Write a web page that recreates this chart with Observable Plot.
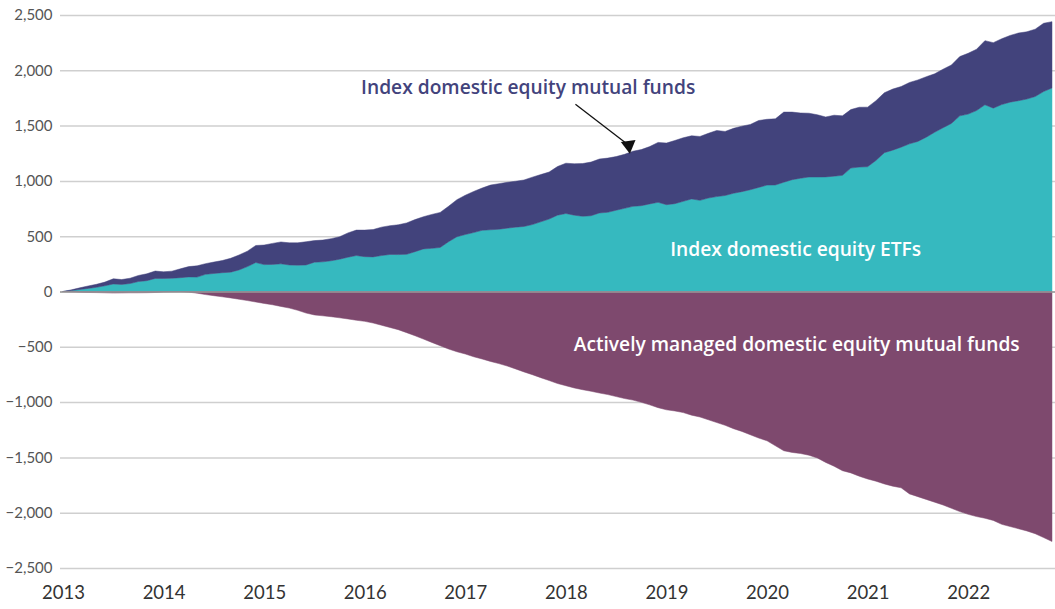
<!DOCTYPE html>
<html>
<head>
<meta charset="utf-8">
<script src="https://cdn.jsdelivr.net/npm/d3@7"></script>
<script src="https://cdn.jsdelivr.net/npm/@observablehq/plot@0.6"></script>
<style>
  html, body { margin: 0; padding: 0; background: #fff; }
  #chart svg { display: block; }
</style>
</head>
<body>
<div id="chart"></div>
<script>
// Monthly cumulative flows (USD billions), January 2013 onward
const startYear = 2013;
const yearTicks = [2013, 2014, 2015, 2016, 2017, 2018, 2019, 2020, 2021, 2022];
const valueTicks = [-2500, -2000, -1500, -1000, -500, 0, 500, 1000, 1500, 2000, 2500];
const seriesNames = [
  "Index domestic equity ETFs",
  "Index domestic equity mutual funds",
  "Actively managed domestic equity mutual funds"
];
const seriesColors = ["#36b9bf", "#42437c", "#7e496e"];

const etf = [
  0, 8, 18, 28, 38, 52, 68, 64, 72, 90, 98, 118,
  118, 120, 125, 132, 130, 155, 163, 170, 175, 195, 225, 262,
  243, 245, 250, 240, 238, 240, 265, 268, 278, 292, 310, 325,
  315, 313, 325, 335, 334, 336, 360, 385, 390, 398, 450, 495,
  515, 533, 553, 558, 563, 573, 582, 588, 605, 630, 655, 690,
  705, 690, 680, 685, 710, 716, 735, 752, 770, 776, 792, 806,
  785, 794, 815, 837, 824, 845, 858, 868, 888, 903, 920, 941,
  962, 963, 988, 1011, 1024, 1035, 1035, 1036, 1043, 1050, 1116, 1125,
  1128, 1185, 1255, 1278, 1305, 1335, 1357, 1395, 1440, 1480, 1520, 1588,
  1604, 1636, 1688, 1658, 1690, 1712, 1725, 1740, 1763, 1808, 1840
];
const indexMutualFunds = [
  0, 7, 15, 22, 27, 33, 47, 44, 48, 55, 62, 67,
  60, 64, 80, 93, 102, 97, 103, 110, 125, 135, 140, 154,
  177, 190, 198, 200, 202, 210, 195, 197, 200, 203, 220, 230,
  240, 247, 257, 260, 269, 284, 290, 291, 307, 317, 320, 335,
  355, 372, 382, 404, 412, 414, 415, 420, 429, 427, 425, 440,
  455, 465, 477, 485, 488, 490, 485, 488, 498, 507, 518, 542,
  557, 571, 575, 571, 578, 585, 598, 579, 587, 592, 590, 605,
  595, 598, 634, 611, 590, 577, 563, 542, 551, 538, 529, 541,
  539, 540, 542, 552, 548, 555, 556, 547, 528, 530, 528, 536,
  550, 554, 580, 592, 595, 603, 612, 608, 609, 617, 600
];
const activeMutualFunds = [
  0, -3, -6, -9, -10, -12, -14, -13, -12, -12, -11, -9,
  -5, -3, -2, -6, -15, -28, -38, -48, -58, -70, -82, -95,
  -108, -120, -135, -150, -170, -195, -212, -220, -228, -238, -248, -260,
  -270, -285, -305, -325, -345, -372, -400, -430, -460, -490, -520, -545,
  -565, -590, -610, -632, -652, -674, -700, -727, -752, -779, -805, -832,
  -852, -872, -888, -902, -918, -932, -950, -968, -982, -1002, -1025, -1050,
  -1070, -1080, -1095, -1118, -1135, -1160, -1185, -1210, -1240, -1265, -1295, -1325,
  -1350, -1395, -1440, -1455, -1465, -1480, -1505, -1545, -1580, -1620, -1640, -1670,
  -1695, -1715, -1740, -1760, -1775, -1830, -1855, -1880, -1905, -1930, -1960, -1990,
  -2015, -2035, -2050, -2070, -2105, -2125, -2145, -2165, -2190, -2225, -2260
];

// Annotations (data coordinates: decimal year, value)
const labelTexts = [
  "Index domestic equity mutual funds",
  "Index domestic equity ETFs",
  "Actively managed domestic equity mutual funds"
];
const labelX = [2017.62, 2020.28, 2020.29];
const labelY = [1850, 379, -478];
const labelColors = ["#42437c", "#ffffff", "#ffffff"];
const arrowFrom = [2018.09, 1697];
const arrowTo = [2018.62, 1327];

// Build long table (series order = stacking order)
const seriesValues = [etf, indexMutualFunds, activeMutualFunds];
const rows = [];
seriesValues.forEach((vals, s) => {
  vals.forEach((v, i) => rows.push({t: startYear + i / 12, series: seriesNames[s], value: v}));
});
const lastT = startYear + (etf.length - 1) / 12;

const labels = labelTexts.map((text, i) => ({text, x: labelX[i], y: labelY[i], color: labelColors[i]}));
const arrowAngle = Math.atan2(
  -(arrowTo[1] - arrowFrom[1]) * 0.1108,
  (arrowTo[0] - arrowFrom[0]) * 100.56
) * 180 / Math.PI;

const chart = Plot.plot({
  width: 1055,
  height: 609,
  marginLeft: 60,
  marginRight: 0,
  marginTop: 15,
  marginBottom: 41,
  style: {fontFamily: "Lato, 'Open Sans', sans-serif", background: "#fff"},
  x: {domain: [2012.97, lastT + 0.03], ticks: yearTicks, tickFormat: d => String(d), tickSize: 0, tickPadding: 17, label: null},
  y: {domain: [-2500, 2500], ticks: valueTicks, tickFormat: d3.format(","), tickSize: 0, tickPadding: 8, label: null},
  color: {domain: seriesNames, range: seriesColors},
  marks: [
    Plot.gridY(valueTicks, {stroke: "#cfcfcf", strokeOpacity: 1, strokeWidth: 1.5}),
    Plot.areaY(rows, {x: "t", y: "value", fill: "series", stroke: "series", strokeWidth: 0.5, curve: "linear"}),
    Plot.ruleY([0], {stroke: "#9a9a9a", strokeWidth: 1.5}),
    Plot.axisY(valueTicks, {tickSize: 0, tickPadding: 8, tickFormat: d3.format(","), fontSize: 15, fill: "#555", label: null}),
    Plot.axisX(yearTicks, {tickSize: 0, tickPadding: 17, tickFormat: d => String(d), fontSize: 18.5, fill: "#333", label: null}),
    Plot.link([{x1: arrowFrom[0], y1: arrowFrom[1], x2: arrowTo[0], y2: arrowTo[1]}], {x1: "x1", y1: "y1", x2: "x2", y2: "y2", stroke: "#111", strokeWidth: 1.3}),
    Plot.dot([{x: arrowTo[0], y: arrowTo[1]}], {x: "x", y: "y", symbol: "triangle", r: 5.5, fill: "#111", stroke: "none", rotate: 90 - arrowAngle}),
    Plot.text(labels, {x: "x", y: "y", text: "text", fill: d => d.color, fontSize: 19.2, fontWeight: 600, fontFamily: "'Open Sans', sans-serif", textAnchor: "middle"})
  ]
});

document.getElementById("chart").appendChild(chart);
</script>
</body>
</html>
